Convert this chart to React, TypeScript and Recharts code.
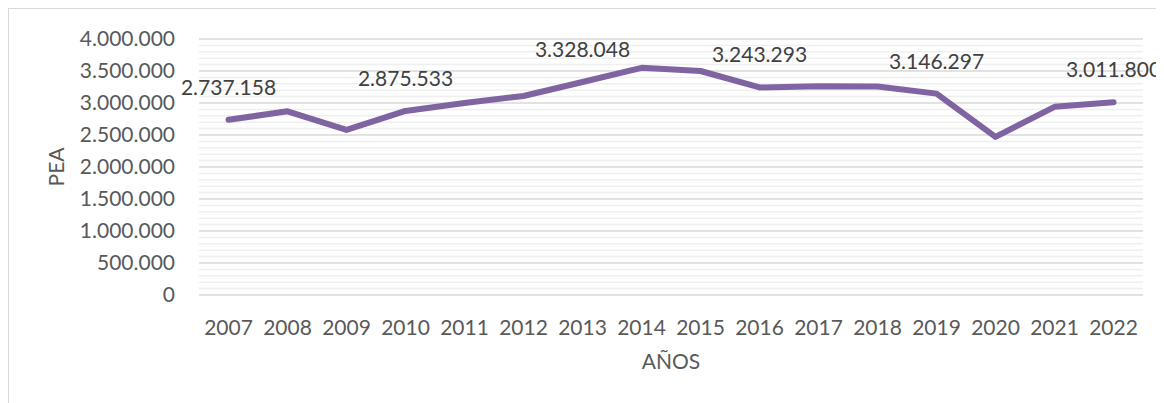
import React from 'react';
import { LineChart, Line, XAxis, YAxis, CartesianGrid } from 'recharts';

const years = ['2007', '2008', '2009', '2010', '2011', '2012', '2013', '2014', '2015', '2016', '2017', '2018', '2019', '2020', '2021', '2022'];
const pea = [2737158, 2870000, 2580000, 2875533, 3000000, 3110000, 3328048, 3550000, 3500000, 3243293, 3262000, 3258000, 3146297, 2470000, 2940000, 3011800];
const labeledYears = ['2007', '2010', '2013', '2016', '2019', '2022'];
const yTicks = [0, 500000, 1000000, 1500000, 2000000, 2500000, 3000000, 3500000, 4000000];
const minorTicks = [
  100000, 200000, 300000, 400000, 600000, 700000, 800000, 900000,
  1100000, 1200000, 1300000, 1400000, 1600000, 1700000, 1800000, 1900000,
  2100000, 2200000, 2300000, 2400000, 2600000, 2700000, 2800000, 2900000,
  3100000, 3200000, 3300000, 3400000, 3600000, 3700000, 3800000, 3900000,
];

const data = years.map((year, i) => ({ year, pea: pea[i] }));

const FONT = 'Lato, "Open Sans", sans-serif';
const FS = 21;

const fmt = (v: number) => String(Math.round(v)).replace(/\B(?=(\d{3})+(?!\d))/g, '.');

const renderLabel = (props: any) => {
  const { x, y, index, value } = props;
  if (!labeledYears.includes(years[index])) return <g key={`l${index}`} />;
  return (
    <text key={`l${index}`} x={x} y={y - 25} textAnchor="middle" fill="#404040" fontSize={FS} fontFamily={FONT}>
      {fmt(value)}
    </text>
  );
};

const yTitle = (props: any) => {
  const vb = props.viewBox || {};
  const cx = (vb.x ?? 0) + 55;
  const cy = (vb.y ?? 0) + (vb.height ?? 0) / 2;
  return (
    <text x={cx} y={cy} transform={`rotate(-90, ${cx}, ${cy})`} textAnchor="middle" fill="#595959" fontSize={FS} fontFamily={FONT}>
      PEA
    </text>
  );
};

const xTitle = (props: any) => {
  const vb = props.viewBox || {};
  const cx = (vb.x ?? 0) + (vb.width ?? 0) / 2;
  const cy = (vb.y ?? 0) + 74;
  return (
    <text x={cx} y={cy} textAnchor="middle" fill="#595959" fontSize={FS} fontFamily={FONT}>
      AÑOS
    </text>
  );
};

export default function App() {
  return (
    <div
      style={{
        width: 1156,
        height: 395,
        borderLeft: '1px solid #d9d9d9',
        borderTop: '1px solid #d9d9d9',
        boxSizing: 'border-box',
        background: '#fff',
      }}
    >
      <LineChart width={1155} height={394} data={data} margin={{ top: 30, right: 21, left: 0, bottom: 0 }}>
        <CartesianGrid vertical={false} horizontalValues={minorTicks} stroke="#efefef" strokeWidth={1.5} />
        <CartesianGrid vertical={false} horizontalValues={yTicks} stroke="#d9d9d9" strokeWidth={1.5} />
        <XAxis
          dataKey="year"
          height={108}
          axisLine={false}
          tickLine={false}
          tickSize={0}
          tickMargin={25}
          interval={0}
          padding={{ left: 29.5, right: 29.5 }}
          tick={{ fill: '#595959', fontSize: FS, fontFamily: FONT }}
          label={{ content: xTitle }}
        />
        <YAxis
          width={190}
          domain={[0, 4000000]}
          ticks={yTicks}
          interval={0}
          tickFormatter={fmt}
          axisLine={false}
          tickLine={false}
          tickSize={0}
          tickMargin={24}
          tick={{ fill: '#595959', fontSize: FS, fontFamily: FONT }}
          label={{ content: yTitle }}
        />
        <Line
          type="linear"
          dataKey="pea"
          stroke="#8064A2"
          strokeWidth={6}
          strokeLinecap="round"
          strokeLinejoin="round"
          dot={false}
          activeDot={false}
          isAnimationActive={false}
          label={renderLabel}
        />
      </LineChart>
    </div>
  );
}
